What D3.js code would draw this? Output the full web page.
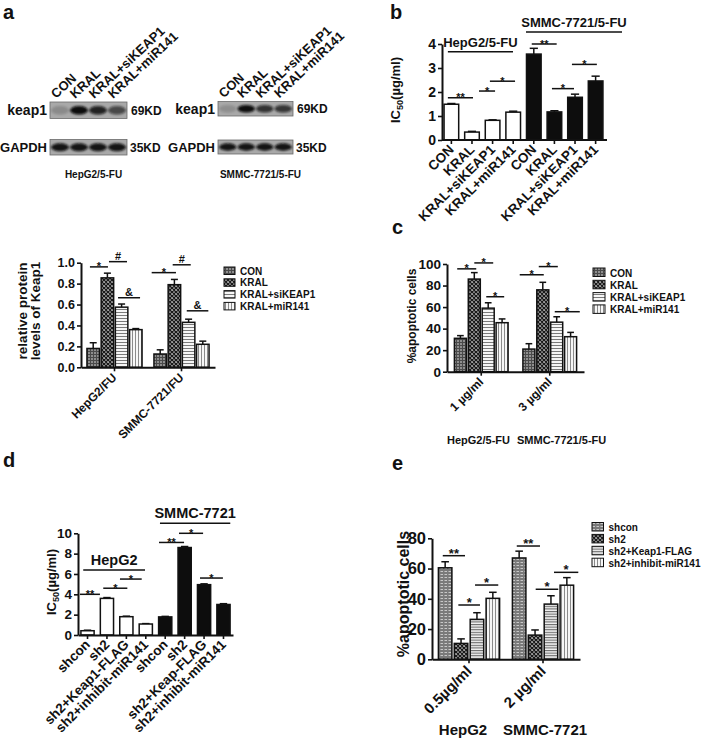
<!DOCTYPE html>
<html><head><meta charset="utf-8">
<script src="https://cdn.jsdelivr.net/npm/d3@7"></script>
<style>body{margin:0;background:#fff}svg text{font-family:"Liberation Sans",Arial,Helvetica,sans-serif;font-weight:bold;fill:#111}</style>
</head><body><svg id="c" width="709" height="744"></svg>
<script>
// ===================== DATA =====================
// Panel a – western blots
const blotLanes = ["CON", "KRAL", "KRAL+siKEAP1", "KRAL+miR141"];
const blotKeap1HepG2 = [0.15, 1.0, 0.85, 0.6];
const blotGapdhHepG2 = [0.95, 0.95, 0.95, 0.95];
const blotKeap1SMMC = [0.12, 1.0, 0.75, 0.72];
const blotGapdhSMMC = [0.95, 0.95, 0.95, 0.95];
// Panel a – quantification
const aGroups = ["HepG2/FU", "SMMC-7721/FU"];
const aSeries = ["CON", "KRAL", "KRAL+siKEAP1", "KRAL+miR141"];
const aMeans = [[0.18, 0.855, 0.575, 0.36], [0.127, 0.79, 0.43, 0.22]];
const aErrs = [[0.055, 0.045, 0.03, 0.01], [0.04, 0.05, 0.03, 0.03]];
const aTicks = [0, 0.2, 0.4, 0.6, 0.8, 1.0];
const aSig = [[0, -0.23, 1.04, 0.96, "*"], [0, 1.11, 2.38, 1.01, "#"], [0, 1.75, 3.3, 0.665, "&"],
              [1, -0.6, 1.11, 0.905, "*"], [1, 0.88, 2.15, 0.98, "#"], [1, 1.87, 3.39, 0.54, "&"]];
// Panel b
const bCats = ["CON", "KRAL", "KRAL+siKEAP1", "KRAL+miR141", "CON", "KRAL", "KRAL+siKEAP1", "KRAL+miR141"];
const bCell = [0, 0, 0, 0, 1, 1, 1, 1];
const bMeans = [1.49, 0.33, 0.82, 1.16, 3.58, 1.17, 1.78, 2.46];
const bErrs = [0.03, 0.03, 0.02, 0.04, 0.24, 0.05, 0.13, 0.2];
const bTicks = [0, 1, 2, 3, 4];
const bSig = [[-0.17, 1.05, 1.76, "**"], [1.34, 2.12, 2.04, "*"], [1.87, 3.09, 2.45, "*"],
              [3.9, 5.11, 4.0, "**"], [4.88, 5.95, 2.14, "*"], [5.85, 7.06, 3.15, "*"]];
const bCellLines = [[-0.17, 2.99, 3.68, "HepG2/5-FU"], [3.62, 8.28, 4.5, "SMMC-7721/5-FU"]];
// Panel c
const cGroups = ["1 µg/ml", "3 µg/ml"];
const cSeries = ["CON", "KRAL", "KRAL+siKEAP1", "KRAL+miR141"];
const cMeans = [[31, 86, 59, 45.5], [21, 76, 46, 32.5]];
const cErrs = [[2.5, 6, 5, 3.5], [5, 7, 5, 4]];
const cTicks = [0, 20, 40, 60, 80, 100];
const cSig = [[0, -0.23, 1.14, 95.5, "*"], [0, 1.0, 2.36, 101, "*"], [0, 1.86, 3.15, 69.6, "*"],
              [1, -0.66, 1.07, 90, "*"], [1, 0.71, 2.08, 97.6, "*"], [1, 1.86, 3.66, 55.7, "*"]];
const cCells = ["HepG2/5-FU", "SMMC-7721/5-FU"];
// Panel d
const dCats = ["shcon", "sh2", "sh2+Keap1-FLAG", "sh2+inhibit-miR141", "shcon", "sh2", "sh2+Keap-FLAG", "sh2+inhibit-miR141"];
const dCell = [0, 0, 0, 0, 1, 1, 1, 1];
const dMeans = [0.42, 3.6, 1.8, 1.08, 1.78, 8.6, 4.95, 3.0];
const dErrs = [0.05, 0.08, 0.05, 0.04, 0.05, 0.1, 0.08, 0.08];
const dTicks = [0, 2, 4, 6, 8, 10];
const dSig = [[-0.39, 0.64, 4.0, "**"], [0.81, 2.05, 4.6, "*"], [1.67, 2.79, 5.5, "*"],
              [3.68, 4.97, 9.1, "**"], [4.71, 5.95, 10.0, "*"], [5.79, 6.97, 5.6, "*"]];
const dCellLines = [[-0.22, 2.96, 6.4, "HepG2"], [3.73, 7.35, 10.98, "SMMC-7721"]];
// Panel e
const eGroups = ["0.5µg/ml", "2 µg/ml"];
const eSeries = ["shcon", "sh2", "sh2+Keap1-FLAG", "sh2+inhibit-miR141"];
const eMeans = [[60.5, 10.5, 26.4, 40.3], [67, 16, 36.5, 49]];
const eErrs = [[4, 3, 4.4, 4], [4.5, 3.4, 5.5, 5]];
const eTicks = [0, 20, 40, 60, 80];
const eSig = [[0, -0.15, 1.25, 68.5, "**"], [0, 0.83, 2.19, 35.9, "*"], [0, 1.88, 3.34, 49.1, "*"],
              [1, -0.15, 1.31, 74.9, "**"], [1, 1.04, 2.46, 46.3, "*"], [1, 2.19, 3.72, 57.5, "*"]];
const eCells = ["HepG2", "SMMC-7721"];

// ===================== DRAWING =====================
const svg = d3.select("#c");
const defs = svg.append("defs");
const INK = "#111";

function pattern(id, w, h, bg, draw) {
  const p = defs.append("pattern").attr("id", id).attr("patternUnits", "userSpaceOnUse")
    .attr("width", w).attr("height", h);
  p.append("rect").attr("width", w).attr("height", h).attr("fill", bg);
  draw(p);
}
pattern("pCon", 3, 3, "#8e8e8e", p => {
  p.append("rect").attr("width", 3).attr("height", 1).attr("fill", "#4a4a4a");
  p.append("rect").attr("width", 1).attr("height", 3).attr("fill", "#4a4a4a");
});
pattern("pKral", 4, 4, "#f4f4f4", p => {
  p.append("path").attr("d", "M0,0L4,4M4,0L0,4M-1,3L1,5M3,-1L5,1M-1,1L1,-1M3,5L5,3")
    .attr("stroke", "#1a1a1a").attr("stroke-width", 1.5);
});
pattern("pH", 3, 3, "#f6f6f6", p => p.append("rect").attr("width", 3).attr("height", 1).attr("fill", "#7a7a7a"));
pattern("pV", 3, 3, "#f6f6f6", p => p.append("rect").attr("width", 1).attr("height", 3).attr("fill", "#8a8a8a"));
pattern("pShcon", 4, 3, "#7a7a7a", p => {
  p.append("rect").attr("x", 0.5).attr("y", 1).attr("width", 2.5).attr("height", 1).attr("fill", "#c8c8c8");
});
pattern("pKF", 3, 2.6, "#f2f2f2", p => p.append("rect").attr("width", 3).attr("height", 1.1).attr("fill", "#6a6a6a"));
const blur = defs.append("filter").attr("id", "blur").attr("x", "-30%").attr("y", "-80%").attr("width", "160%").attr("height", "260%");
blur.append("feGaussianBlur").attr("stdDeviation", 1.1);

const fillsA = ["url(#pCon)", "url(#pKral)", "url(#pH)", "url(#pV)"];
const fillsE = ["url(#pShcon)", "url(#pKral)", "url(#pKF)", "url(#pV)"];

function txt(g, x, y, s, size, opts = {}) {
  const t = g.append("text").attr("x", x).attr("y", y).attr("font-size", size).text(s);
  if (opts.anchor) t.attr("text-anchor", opts.anchor);
  if (opts.transform) t.attr("transform", opts.transform);
  return t;
}
function panelLetter(x, y, s) { txt(svg, x, y, s, 20); }

function yAxis(x0, y, ticks, fmt, fs) {
  const g = svg.append("g").attr("transform", `translate(${x0},0)`)
    .call(d3.axisLeft(y).tickValues(ticks).tickFormat(fmt).tickSize(4).tickPadding(2).tickSizeOuter(0));
  styleAxis(g, fs);
  return g;
}
function styleAxis(g, fs) {
  g.attr("font-family", null).attr("font-size", fs);
  g.select(".domain").attr("stroke", INK).attr("stroke-width", 2);
  g.selectAll(".tick line").attr("stroke", INK).attr("stroke-width", 1.6);
  g.selectAll(".tick text").attr("fill", INK);
}
function xAxis(y0, scale, fs, off, angle) {
  const g = svg.append("g").attr("transform", `translate(0,${y0})`)
    .call(d3.axisBottom(scale).tickSize(4).tickSizeOuter(0));
  styleAxis(g, fs);
  g.selectAll(".tick text").attr("x", 0).attr("y", 0).attr("dy", "0.35em")
    .attr("text-anchor", "end").attr("transform", `translate(0,${off}) rotate(${angle})`);
  return g;
}
function bar(cx, w, y, v, e, fill) {
  svg.append("line").attr("x1", cx).attr("x2", cx).attr("y1", y(v)).attr("y2", y(v + e))
    .attr("stroke", INK).attr("stroke-width", 1.5);
  svg.append("line").attr("x1", cx - w * 0.28).attr("x2", cx + w * 0.28).attr("y1", y(v + e)).attr("y2", y(v + e))
    .attr("stroke", INK).attr("stroke-width", 1.5);
  svg.append("rect").attr("x", cx - w / 2).attr("y", y(v)).attr("width", w).attr("height", y(0) - y(v))
    .attr("fill", fill).attr("stroke", INK).attr("stroke-width", 1.5);
}
function sigLine(x1, x2, yy, label, fs, dy) {
  svg.append("line").attr("x1", x1).attr("x2", x2).attr("y1", yy).attr("y2", yy)
    .attr("stroke", INK).attr("stroke-width", 1.5);
  txt(svg, (x1 + x2) / 2, yy + dy, label, fs, { anchor: "middle" });
}
function legend(x, y, rowH, items, fills, fs, bw, bh) {
  items.forEach((s, i) => {
    svg.append("rect").attr("x", x).attr("y", y + i * rowH).attr("width", bw).attr("height", bh)
      .attr("fill", fills[i]).attr("stroke", INK).attr("stroke-width", 1);
    txt(svg, x + bw + 5, y + i * rowH + bh, s, fs);
  });
}
function yLabel(x, cy, s, fs) {
  return txt(svg, 0, 0, s, fs, { anchor: "middle", transform: `translate(${x},${cy}) rotate(-90)` });
}
function icLabel(x, cy, fs) {
  const t = svg.append("text").attr("font-size", fs).attr("text-anchor", "middle")
    .attr("transform", `translate(${x},${cy}) rotate(-90)`);
  t.append("tspan").text("IC");
  t.append("tspan").attr("font-size", fs * 0.7).attr("dy", 3).text("50");
  t.append("tspan").attr("dy", -3).text("(µg/ml)");
}

// ---------- Panel a : blots ----------
panelLetter(3, 19, "a");
function blot(x, y, w, h, vals) {
  svg.append("rect").attr("x", x).attr("y", y).attr("width", w).attr("height", h)
    .attr("fill", "#a9a9a9").attr("stroke", "#6a6a6a").attr("stroke-width", 0.8);
  const lane = d3.scaleBand().domain(d3.range(vals.length)).range([x, x + w]).padding(0.06);
  const op = d3.scaleLinear().domain([0, 1]).range([0.05, 1]);
  vals.forEach((v, i) => {
    svg.append("ellipse").attr("cx", lane(i) + lane.bandwidth() / 2).attr("cy", y + h / 2)
      .attr("rx", lane.bandwidth() / 2).attr("ry", h * 0.26)
      .attr("fill", "#0a0a0a").attr("opacity", op(v)).attr("filter", "url(#blur)");
  });
  return lane;
}
function blotSet(x, w, kTop, kH, gTop, gH, kv, gv, cell) {
  const lane = blot(x, kTop, w, kH, kv);
  blot(x, gTop, w, gH, gv);
  blotLanes.forEach((s, i) => {
    const lx = lane(i) + lane.bandwidth() / 2 - 4, ly = kTop - 3;
    txt(svg, 0, 0, s, 13, { transform: `translate(${lx},${ly}) rotate(-43)` });
  });
  txt(svg, x - 3, kTop + kH / 2 + 5, "keap1", 14, { anchor: "end" });
  txt(svg, x - 3, gTop + gH / 2 + 5, "GAPDH", 13, { anchor: "end" });
  txt(svg, x + w + 4, kTop + kH / 2 + 4.5, "69KD", 12);
  txt(svg, x + w + 3, gTop + gH / 2 + 4.5, "35KD", 12);
  txt(svg, x + w / 2 + 5, 178, cell, 10, { anchor: "middle" });
}
blotSet(50, 77, 102, 16.5, 139.5, 15.5, blotKeap1HepG2, blotGapdhHepG2, "HepG2/5-FU");
blotSet(218, 75, 101.5, 14.5, 140, 14, blotKeap1SMMC, blotGapdhSMMC, "SMMC-7721/5-FU");

// ---------- grouped bar helper ----------
function grouped(cfg) {
  const x0 = d3.scaleBand().domain(cfg.groups).range(cfg.xr);
  const y = d3.scaleLinear().domain([0, d3.max(cfg.ticks)]).range(cfg.yr);
  const sx = d3.scaleLinear().domain([0, cfg.series.length - 1])
    .range([-(cfg.series.length - 1) / 2 * cfg.step, (cfg.series.length - 1) / 2 * cfg.step]);
  const gc = g => x0(cfg.groups[g]) + x0.bandwidth() / 2;
  cfg.means.forEach((row, g) => row.forEach((v, s) =>
    bar(gc(g) + sx(s), cfg.bw, y, v, cfg.errs[g][s], cfg.fills[s])));
  yAxis(cfg.xr[0], y, cfg.ticks, cfg.fmt, cfg.yfs);
  xAxis(cfg.yr[0], x0, cfg.xfs, cfg.xoff, -45);
  cfg.sig.forEach(([g, a, b, v, lab]) =>
    sigLine(gc(g) + sx(a), gc(g) + sx(b), y(v), lab, lab === "*" || lab === "**" ? cfg.starFs : cfg.symFs,
      lab === "*" || lab === "**" ? cfg.starDy : cfg.symDy));
  legend(cfg.lx, cfg.ly, cfg.lrow, cfg.series, cfg.fills, cfg.lfs, cfg.lbw, cfg.lbh);
}

// ---------- Panel a : quantification ----------
grouped({ groups: aGroups, series: aSeries, means: aMeans, errs: aErrs, ticks: aTicks,
  xr: [81, 215], yr: [367.3, 262.7], step: 14.2, bw: 12.5, fills: fillsA, fmt: d3.format(".1f"),
  yfs: 12.5, xfs: 12, xoff: 8, sig: aSig, starFs: 11, starDy: 3.5, symFs: 11, symDy: -2,
  lx: 224, ly: 267, lrow: 11.8, lfs: 10, lbw: 11, lbh: 7.5 });
txt(svg, 0, 0, "relative protein", 13.5, { anchor: "middle", transform: "translate(27,311) rotate(-90)" });
txt(svg, 0, 0, "levels of Keap1", 13.5, { anchor: "middle", transform: "translate(40,311) rotate(-90)" });

// ---------- Panel b ----------
panelLetter(390, 19, "b");
(function () {
  const idx = d3.range(bCats.length);
  const x = d3.scaleBand().domain(idx).range([442, 605]).paddingInner(0.29).paddingOuter(0.1);
  const xi = d3.scaleLinear().domain([0, idx.length - 1]).range([x(0) + x.bandwidth() / 2, x(idx.length - 1) + x.bandwidth() / 2]);
  const y = d3.scaleLinear().domain([0, 4]).range([140, 44]);
  idx.forEach(i => bar(xi(i), x.bandwidth(), y, bMeans[i], bErrs[i], bCell[i] ? "#0d0d0d" : "#fff"));
  yAxis(442, y, bTicks, d3.format("d"), 14);
  const ax = xAxis(140, x, 13.5, 7, -45);
  ax.selectAll(".tick text").text(i => bCats[i]);
  ax.select(".domain").attr("d", `M442,0H607`);
  bSig.forEach(([a, b, v, l]) => sigLine(xi(a), xi(b), y(v), l, 11, 3.5));
  bCellLines.forEach(([a, b, v, l]) => sigLine(xi(a), xi(b), y(v), l, 13, -5));
  icLabel(400, 90, 13);
})();

// ---------- Panel c ----------
panelLetter(392, 234, "c");
grouped({ groups: cGroups, series: cSeries, means: cMeans, errs: cErrs, ticks: cTicks,
  xr: [447, 584], yr: [371.7, 264], step: 13.9, bw: 12, fills: fillsA, fmt: d3.format("d"),
  yfs: 13.5, xfs: 12, xoff: 8, sig: cSig, starFs: 11, starDy: 3.5, symFs: 11, symDy: -2,
  lx: 593, ly: 268, lrow: 12.3, lfs: 10, lbw: 12, lbh: 8.5 });
yLabel(416, 316, "%apoptotic cells", 12);
txt(svg, 447, 444, cCells[0], 11);
txt(svg, 517, 444, cCells[1], 11);

// ---------- Panel d ----------
panelLetter(3, 467, "d");
(function () {
  const idx = d3.range(dCats.length);
  const x = d3.scaleBand().domain(idx).range([78, 233]).paddingInner(0.32).paddingOuter(0.15);
  const xi = d3.scaleLinear().domain([0, idx.length - 1]).range([x(0) + x.bandwidth() / 2, x(idx.length - 1) + x.bandwidth() / 2]);
  const y = d3.scaleLinear().domain([0, 10]).range([635, 533.3]);
  idx.forEach(i => bar(xi(i), x.bandwidth(), y, dMeans[i], dErrs[i], dCell[i] ? "#0d0d0d" : "#fff"));
  yAxis(78, y, dTicks, d3.format("d"), 13.5);
  const ax = xAxis(635, x, 13.5, 7, -45);
  ax.selectAll(".tick text").text(i => dCats[i]);
  dSig.forEach(([a, b, v, l]) => sigLine(xi(a), xi(b), y(v), l, 11, 3.5));
  dCellLines.forEach(([a, b, v, l]) => sigLine(xi(a), xi(b), y(v), l, 14.5, -5));
  icLabel(56, 582, 13);
})();

// ---------- Panel e ----------
panelLetter(392, 470, "e");
grouped({ groups: eGroups, series: eSeries, means: eMeans, errs: eErrs, ticks: eTicks,
  xr: [432, 580], yr: [659.3, 538.3], step: 15.9, bw: 13.5, fills: fillsE, fmt: d3.format("d"),
  yfs: 16.5, xfs: 15, xoff: 9, sig: eSig, starFs: 13, starDy: 2, symFs: 13, symDy: -2,
  lx: 592, ly: 522.5, lrow: 11.9, lfs: 10, lbw: 11.5, lbh: 8.5 });
yLabel(409, 594, "%apoptotic cells", 16);
txt(svg, 463, 735, eCells[0], 15, { anchor: "middle" });
txt(svg, 545, 735, eCells[1], 15, { anchor: "middle" });
</script></body></html>
